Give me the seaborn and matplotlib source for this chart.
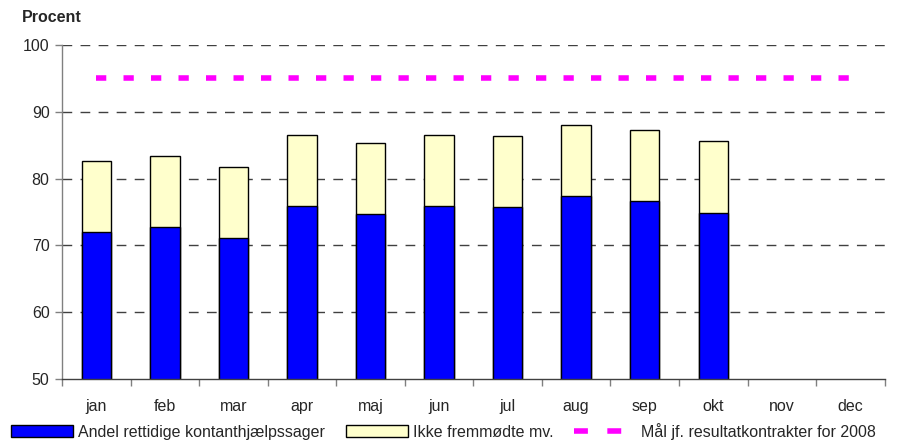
import numpy as np
import pandas as pd
import matplotlib
matplotlib.use("Agg")
import matplotlib.pyplot as plt
import seaborn as sns
from matplotlib.patches import Patch
from matplotlib.lines import Line2D

# data
months = ["jan", "feb", "mar", "apr", "maj", "jun", "jul", "aug", "sep", "okt", "nov", "dec"]
rettidige = [72.0, 72.8, 71.1, 75.9, 74.7, 75.9, 75.7, 77.4, 76.7, 74.9, np.nan, np.nan]
ikke_fremmoedte = [10.7, 10.6, 10.6, 10.6, 10.7, 10.7, 10.7, 10.6, 10.6, 10.7, np.nan, np.nan]
maal = [95] * 12

df = pd.DataFrame({"month": months, "rettidige": rettidige,
                   "ikke": ikke_fremmoedte, "maal": maal})
df["total"] = df["rettidige"] + df["ikke"]

sns.set_style("white")
plt.rcParams["font.family"] = ["Liberation Sans", "DejaVu Sans"]

fig = plt.figure(figsize=(9.03, 4.46), dpi=100)
ax = fig.add_axes([0.0687, 0.150, 0.911, 0.749])

# stacked bars: total (yellow) behind, blue on top
sns.barplot(data=df, x="month", y="total", order=months, color="#FFFFCC",
            edgecolor="black", linewidth=1, width=0.43, ax=ax, saturation=1)
sns.barplot(data=df, x="month", y="rettidige", order=months, color="#0000FF",
            edgecolor="black", linewidth=1, width=0.43, ax=ax, saturation=1)

# target line
x_pos = np.arange(len(months))
ax.plot(x_pos, df["maal"], color="#FF00FF", linewidth=4, dashes=(1.85, 3.1),
        solid_capstyle="butt", dash_capstyle="butt", zorder=4)

ax.set_ylim(50, 100)
ax.set_xlim(-0.5, 11.5)
ax.set_yticks([50, 60, 70, 80, 90, 100])
for v in [60, 70, 80, 90, 100]:
    ax.axhline(v, color="#404040", linewidth=1, dashes=(7, 6), zorder=0)

# ticks at category boundaries, labels at centres
ax.set_xticks(x_pos)
ax.set_xticklabels(months)
ax.set_xticks(np.arange(-0.5, 12, 1), minor=True)
ax.tick_params(axis="x", which="major", length=0, pad=14, labelsize=11.5)
ax.tick_params(axis="x", which="minor", length=5, direction="out", color="#808080", width=1)
ax.tick_params(axis="y", length=5, direction="out", color="#808080", width=1, labelsize=11.5, pad=4)
ax.xaxis.set_ticks_position("bottom")
ax.yaxis.set_ticks_position("left")
ax.set_xlabel("")
ax.set_ylabel("")

for s in ["top", "right"]:
    ax.spines[s].set_visible(False)
ax.spines["left"].set_color("#808080")
ax.spines["bottom"].set_color("#404040")
ax.spines["left"].set_linewidth(1)
ax.spines["bottom"].set_linewidth(1)

fig.text(0.024, 0.96, "Procent", fontsize=11.5, fontweight="bold", va="center", ha="left")

handles = [
    Patch(facecolor="#0000FF", edgecolor="black", linewidth=1),
    Patch(facecolor="#FFFFCC", edgecolor="black", linewidth=1),
    Line2D([0], [0], color="#FF00FF", linewidth=4, dashes=(2.5, 3.5), dash_capstyle="butt"),
]
labels = ["Andel rettidige kontanthjælpssager", "Ikke fremmødte mv.",
          "Mål jf. resultatkontrakter for 2008"]
fig.legend(handles, labels, loc="lower left", bbox_to_anchor=(0.005, 0.0), ncol=3,
           frameon=False, fontsize=11.5, handlelength=3.9, handleheight=0.8,
           handletextpad=0.3, columnspacing=1.3, borderaxespad=0.2, borderpad=0.2)

fig.savefig("out.png", dpi=100)
